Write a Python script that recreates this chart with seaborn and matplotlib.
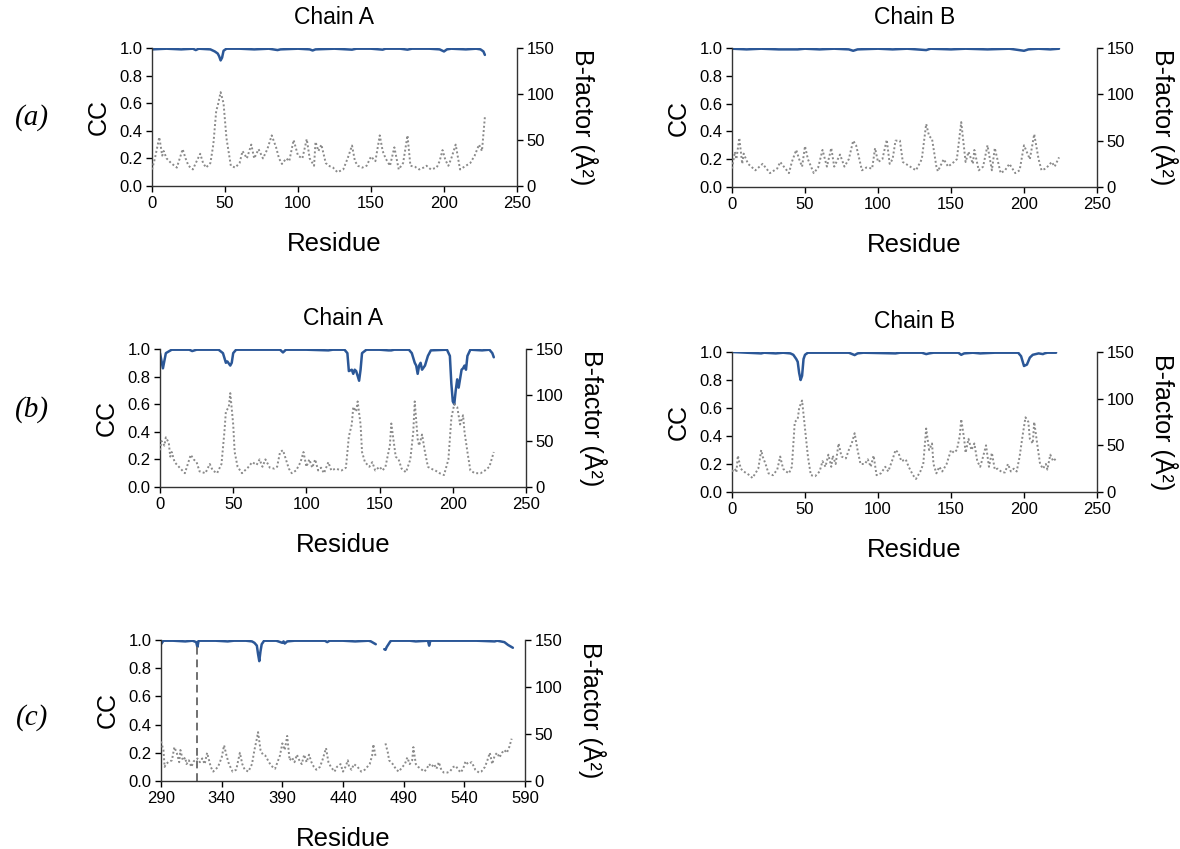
import matplotlib
matplotlib.use("Agg")
import matplotlib.pyplot as plt
import numpy as np
import pandas as pd
import seaborn as sns

sns.set_theme(style="ticks")
plt.rcParams["font.family"] = ["Liberation Sans", "DejaVu Sans"]
plt.rcParams["text.color"] = "black"
plt.rcParams["axes.labelcolor"] = "black"

CC_COLOR = "#2B5797"
B_COLOR = "#8A8A8A"

# ---------------- (a) chain A ----------------
a_A_res_b = [0, 2, 5, 7, 8, 10, 13, 17, 21, 23, 25, 28, 30, 33, 35, 37, 40, 42, 44, 45, 47, 49, 51,
             54, 57, 60, 62, 65, 68, 70, 73, 76, 79, 82, 85, 87, 89, 92, 94, 97, 100, 103, 106, 108,
             111, 112, 114, 116, 119, 121, 124, 127, 131, 134, 137, 139, 141, 144, 147, 150, 153, 156,
             158, 160, 163, 166, 169, 172, 175, 177, 180, 183, 186, 188, 191, 195, 197, 199, 201, 203,
             205, 208, 211, 214, 218, 221, 224, 226, 228]
a_A_bfac = [18, 30, 53, 33, 38, 30, 25, 20, 40, 30, 22, 18, 25, 35, 25, 20, 25, 45, 82, 87, 102, 90, 52,
            22, 20, 25, 38, 30, 45, 30, 40, 30, 40, 55, 42, 30, 24, 30, 27, 50, 33, 30, 51, 30,
            22, 48, 38, 45, 25, 22, 20, 15, 18, 30, 44, 27, 22, 20, 22, 32, 27, 55,
            38, 30, 22, 42, 18, 25, 55, 22, 21, 18, 20, 22, 18, 20, 27, 39, 28, 22,
            30, 45, 18, 21, 25, 33, 45, 38, 75]
a_A_res_cc = [0, 10, 20, 28, 30, 32, 40, 43, 45, 46, 47, 48, 49, 51, 60, 70, 80, 86, 88, 100, 108, 110,
              112, 125, 137, 140, 150, 158, 160, 170, 175, 178, 190, 197, 200, 202, 205, 215, 222, 225,
              227, 228]
a_A_cc = [0.99, 0.995, 0.99, 0.995, 0.985, 0.995, 0.99, 0.975, 0.96, 0.94, 0.91, 0.93, 0.98, 0.995,
          0.995, 0.99, 0.995, 0.985, 0.99, 0.995, 0.99, 0.982, 0.99, 0.995, 0.988, 0.995, 0.995, 0.988,
          0.995, 0.995, 0.988, 0.995, 0.995, 0.99, 0.975, 0.99, 0.995, 0.99, 0.995, 0.99, 0.975, 0.95]

# ---------------- (a) chain B ----------------
a_B_res_b = [0, 2, 3, 5, 7, 8, 11, 16, 21, 26, 31, 33, 39, 41, 44, 46, 48, 50, 52, 56, 59, 62, 65, 68,
             70, 74, 77, 80, 83, 85, 89, 92, 96, 98, 100, 103, 106, 108, 110, 112, 115, 117, 122, 126,
             130, 133, 135, 137, 140, 141, 145, 148, 152, 154, 157, 160, 162, 165, 166, 169, 172, 175,
             178, 180, 184, 187, 190, 194, 197, 200, 204, 207, 210, 212, 215, 219, 221, 224]
a_B_bfac = [20, 38, 30, 53, 25, 36, 25, 18, 25, 15, 20, 27, 15, 27, 40, 30, 22, 44, 30, 15, 21, 40, 22, 42,
            22, 35, 22, 30, 50, 45, 18, 21, 20, 42, 27, 30, 51, 25, 30, 50, 50, 27, 22, 18,
            30, 68, 55, 52, 22, 17, 30, 22, 27, 30, 70, 27, 38, 25, 40, 18, 22, 45,
            18, 42, 15, 18, 25, 15, 18, 45, 30, 57, 30, 18, 20, 27, 22, 32]
a_B_res_cc = [0, 10, 20, 32, 45, 50, 60, 70, 80, 83, 86, 100, 110, 120, 133, 136, 150, 160, 175, 190,
              200, 203, 210, 218, 224]
a_B_cc = [0.995, 0.99, 0.995, 0.99, 0.99, 0.995, 0.99, 0.995, 0.99, 0.98, 0.99, 0.995, 0.99, 0.995,
          0.985, 0.995, 0.99, 0.995, 0.99, 0.995, 0.98, 0.99, 0.995, 0.99, 0.995]

# ---------------- (b) chain A ----------------
b_A_res_b = [0, 1, 3, 4, 6, 7, 8, 10, 14, 17, 21, 23, 25, 27, 31, 34, 36, 39, 42, 44, 45, 47, 48, 50,
             51, 53, 56, 60, 63, 66, 68, 70, 72, 75, 78, 80, 82, 84, 86, 88, 90, 93, 96, 98, 100, 102,
             104, 106, 108, 110, 112, 115, 117, 120, 124, 127, 128, 129, 131, 132, 134, 135, 137, 138,
             140, 143, 145, 147, 150, 152, 154, 157, 158, 160, 161, 163, 165, 168, 171, 173, 174, 176,
             177, 179, 181, 183, 185, 188, 191, 194, 197, 199, 201, 203, 205, 207, 208, 210, 212, 215,
             219, 222, 225, 228]
b_A_bfac = [40, 50, 45, 54, 48, 33, 38, 27, 20, 15, 35, 30, 27, 17, 15, 25, 18, 15, 25, 60, 82, 87, 102, 68,
            38, 22, 15, 21, 27, 24, 30, 22, 30, 21, 20, 22, 38, 40, 30, 20, 15, 18, 27, 38, 22, 30,
            21, 30, 18, 21, 15, 27, 18, 20, 18, 21, 38, 55, 68, 87, 82, 93, 68, 38,
            27, 22, 27, 18, 22, 18, 22, 45, 69, 45, 33, 30, 20, 16, 30, 60, 93, 52,
            45, 57, 38, 22, 20, 18, 15, 13, 30, 75, 90, 87, 68, 78, 60, 38, 18, 15,
            15, 18, 22, 38]
b_A_res_cc = [0, 2, 4, 8, 20, 22, 25, 40, 43, 45, 46, 48, 49, 50, 52, 70, 82, 84, 86, 100, 115, 118, 126,
              128, 129, 131, 132, 133, 134, 136, 137, 138, 141, 150, 156, 158, 160, 170, 172, 174, 175,
              176, 177, 178, 179, 181, 183, 185, 196, 198, 199, 200, 201, 202, 203, 204, 206, 207, 208,
              209, 210, 212, 220, 225, 227, 228]
b_A_cc = [0.97, 0.86, 0.97, 0.995, 0.995, 0.985, 0.995, 0.995, 0.97, 0.9, 0.91, 0.88, 0.9, 0.97, 0.995,
          0.995, 0.995, 0.975, 0.995, 0.995, 0.99, 0.995, 0.995, 0.97, 0.84, 0.85, 0.82, 0.85, 0.84,
          0.77, 0.85, 0.97, 0.995, 0.995, 0.99, 0.99, 0.995, 0.995, 0.97, 0.9, 0.88, 0.82, 0.88, 0.9,
          0.85, 0.88, 0.95, 0.99, 0.995, 0.95, 0.75, 0.62, 0.6, 0.7, 0.78, 0.72, 0.85, 0.86, 0.88,
          0.85, 0.95, 0.995, 0.99, 0.995, 0.97, 0.94]

# ---------------- (b) chain B ----------------
b_B_res_b = [0, 2, 3, 4, 6, 8, 12, 14, 18, 20, 21, 23, 25, 28, 31, 33, 35, 37, 39, 41, 43, 45, 46, 48,
             50, 52, 54, 57, 60, 62, 64, 66, 68, 69, 71, 73, 75, 78, 80, 82, 84, 86, 88, 91, 93, 95,
             97, 99, 102, 105, 107, 110, 112, 114, 116, 119, 121, 124, 126, 129, 131, 133, 135, 137,
             138, 140, 142, 144, 147, 150, 152, 154, 156, 157, 159, 160, 162, 164, 166, 168, 170, 172,
             174, 176, 178, 180, 182, 185, 187, 189, 191, 193, 195, 197, 199, 201, 203, 204, 206, 207,
             209, 211, 213, 215, 216, 218, 220, 222]
b_B_bfac = [22, 25, 21, 39, 25, 22, 18, 15, 25, 45, 38, 30, 20, 18, 24, 38, 25, 22, 20, 27, 75, 78, 90, 98,
            68, 38, 18, 17, 22, 33, 27, 40, 27, 39, 30, 52, 38, 36, 45, 52, 63, 45, 30, 30, 35, 27,
            39, 18, 20, 27, 22, 35, 45, 42, 33, 35, 27, 18, 14, 22, 30, 68, 45, 52,
            30, 20, 27, 22, 30, 45, 42, 45, 60, 78, 57, 42, 57, 45, 52, 33, 27, 38,
            50, 27, 42, 24, 25, 21, 21, 30, 22, 25, 22, 38, 60, 80, 75, 57, 52, 75,
            52, 30, 25, 30, 24, 40, 33, 36]
b_B_res_cc = [0, 10, 20, 22, 30, 35, 40, 42, 44, 45, 46, 47, 48, 49, 50, 52, 70, 80, 84, 86, 90, 112,
              115, 130, 133, 135, 138, 155, 157, 159, 165, 170, 180, 196, 198, 200, 201, 202, 204, 206,
              210, 213, 214, 216, 222]
b_B_cc = [1.0, 0.995, 0.99, 0.995, 0.99, 0.995, 0.99, 0.98, 0.95, 0.93, 0.85, 0.8, 0.83, 0.95, 0.98,
          0.995, 0.995, 0.995, 0.978, 0.99, 0.995, 0.99, 0.995, 0.995, 0.985, 0.99, 0.995, 0.995, 0.98,
          0.99, 0.995, 0.99, 0.995, 0.995, 0.97, 0.9, 0.905, 0.91, 0.96, 0.98, 0.99, 0.985, 0.99,
          0.995, 0.995]

# ---------------- (c) two fragments with a gap ----------------
c_res_b1 = [290, 292, 293, 294, 296, 299, 301, 303, 305, 306, 308, 310, 311, 313, 315, 317, 320, 322,
            324, 326, 328, 331, 333, 337, 340, 342, 344, 346, 349, 352, 355, 357, 359, 362, 365, 367,
            369, 370, 372, 374, 376, 379, 381, 384, 386, 388, 390, 392, 394, 396, 398, 400, 402, 404,
            406, 408, 410, 412, 414, 416, 418, 421, 423, 426, 428, 430, 433, 435, 438, 440, 442, 444,
            445, 447, 449, 452, 455, 458, 460, 462, 464, 465, 467]
c_bfac1 = [42, 33, 15, 18, 20, 22, 36, 30, 20, 33, 22, 25, 18, 22, 15, 21, 24, 20,
           24, 18, 30, 15, 10, 15, 25, 38, 27, 18, 10, 12, 30, 18, 12, 10, 18, 33,
           45, 52, 33, 28, 27, 20, 16, 13, 20, 27, 40, 33, 48, 22, 25, 20, 28, 22,
           18, 28, 20, 28, 20, 15, 12, 15, 22, 35, 20, 15, 10, 15, 18, 10, 15, 22,
           15, 12, 18, 15, 10, 12, 15, 18, 27, 39, 25]
c_res_b2 = [475, 477, 478, 481, 484, 486, 489, 491, 493, 495, 497, 498, 500, 502, 504, 507, 509, 511,
            513, 515, 517, 519, 521, 523, 526, 528, 531, 533, 535, 537, 539, 541, 543, 546, 548, 549,
            552, 554, 557, 559, 561, 563, 565, 567, 569, 571, 573, 575, 577, 579]
c_bfac2 = [40, 30, 22, 18, 12, 10, 15, 18, 25, 18, 22, 36, 18, 15, 13, 10, 13, 18,
           15, 18, 13, 20, 12, 9, 9, 10, 15, 16, 12, 9, 13, 21, 18, 20, 15, 12,
           9, 10, 15, 22, 30, 18, 27, 30, 25, 30, 33, 30, 36, 45]
c_res_cc1 = [290, 292, 300, 310, 316, 319, 320, 321, 335, 345, 350, 360, 365, 367, 369, 370, 371, 372,
             373, 375, 385, 390, 391, 392, 394, 400, 415, 425, 427, 429, 440, 450, 461, 463, 465, 467]
c_cc1 = [0.97, 0.995, 0.995, 0.99, 0.995, 0.985, 0.95, 0.995, 0.995, 0.99, 0.995, 0.995, 0.99, 0.98,
         0.96, 0.9, 0.85, 0.92, 0.97, 0.995, 0.995, 0.98, 0.99, 0.975, 0.99, 0.995, 0.995, 0.995,
         0.985, 0.995, 0.995, 0.99, 0.995, 0.99, 0.98, 0.97]
c_res_cc2 = [474, 475, 476, 479, 480, 495, 500, 510, 511, 512, 530, 550, 565, 567, 570, 573, 576, 578, 580]
c_cc2 = [0.935, 0.93, 0.95, 0.99, 0.995, 0.995, 0.99, 0.995, 0.96, 0.995, 0.995, 0.995, 0.99, 0.995,
         0.99, 0.985, 0.965, 0.955, 0.945]
c_marker_res = 320
c_marker_top = 0.96


def frame(res_parts, val_parts):
    rows = []
    for seg, (r, v) in enumerate(zip(res_parts, val_parts)):
        rows.append(pd.DataFrame({"res": r, "val": v, "seg": seg}))
    return pd.concat(rows, ignore_index=True)


def draw_panel(rect, b_df, cc_df, xticks, title=None):
    ax = fig.add_axes(rect)
    ax2 = ax.twinx()
    sns.lineplot(data=cc_df, x="res", y="val", units="seg", estimator=None, sort=True,
                 color=CC_COLOR, linewidth=1.8, ax=ax)
    sns.lineplot(data=b_df, x="res", y="val", units="seg", estimator=None, sort=True,
                 color=B_COLOR, linewidth=1.4, linestyle=(0, (1, 1.2)), ax=ax2)
    ax.set_xlim(xticks[0], xticks[-1])
    ax.set_ylim(0, 1.0)
    ax2.set_ylim(0, 150)
    ax.set_xticks(xticks)
    ax.set_yticks([0, 0.2, 0.4, 0.6, 0.8, 1.0])
    ax.set_yticklabels([f"{t:.1f}" for t in [0, 0.2, 0.4, 0.6, 0.8, 1.0]])
    ax2.set_yticks([0, 50, 100, 150])
    ax.set_xlabel("Residue", fontsize=18.5, labelpad=15)
    ax.set_ylabel("CC", fontsize=18, labelpad=6)
    ax2.set_ylabel("B-factor (Å²)", fontsize=18, rotation=270, labelpad=31)
    for a in (ax, ax2):
        a.spines["top"].set_visible(False)
        a.tick_params(direction="out", length=4, width=1, labelsize=12, colors="black", pad=3)
        for s in a.spines.values():
            s.set_color("#333333")
            s.set_linewidth(1)
    ax.spines["right"].set_visible(False)
    ax2.spines["left"].set_visible(False)
    ax2.spines["bottom"].set_visible(False)
    if title:
        ax.set_title(title, fontsize=16.5, pad=17)
    return ax, ax2


W, H = 1180, 849
fig = plt.figure(figsize=(W / 100, H / 100), dpi=100)


def rect(left, right, top, bottom):
    return [left / W, 1 - bottom / H, (right - left) / W, (bottom - top) / H]


ticks250 = [0, 50, 100, 150, 200, 250]

draw_panel(rect(152, 517, 48, 186), frame([a_A_res_b], [a_A_bfac]), frame([a_A_res_cc], [a_A_cc]),
           ticks250, title="Chain A")
draw_panel(rect(732, 1097, 48, 187), frame([a_B_res_b], [a_B_bfac]), frame([a_B_res_cc], [a_B_cc]),
           ticks250, title="Chain B")
draw_panel(rect(160, 526, 349, 487), frame([b_A_res_b], [b_A_bfac]), frame([b_A_res_cc], [b_A_cc]),
           ticks250, title="Chain A")
draw_panel(rect(732, 1097, 352, 492), frame([b_B_res_b], [b_B_bfac]), frame([b_B_res_cc], [b_B_cc]),
           ticks250, title="Chain B")
ax_c, _ = draw_panel(rect(161, 525, 640, 781), frame([c_res_b1, c_res_b2], [c_bfac1, c_bfac2]),
                     frame([c_res_cc1, c_res_cc2], [c_cc1, c_cc2]), list(range(290, 591, 50)))
ax_c.vlines(c_marker_res, 0, c_marker_top, colors="#707070", linestyles=(0, (4, 2.5)), linewidth=1.4)

for txt, y in [("(a)", 118), ("(b)", 410), ("(c)", 718)]:
    fig.text(32 / W, 1 - y / H, txt, fontsize=21, style="italic", family="Liberation Serif",
             ha="center", va="center")

fig.savefig("out.png", dpi=100)
